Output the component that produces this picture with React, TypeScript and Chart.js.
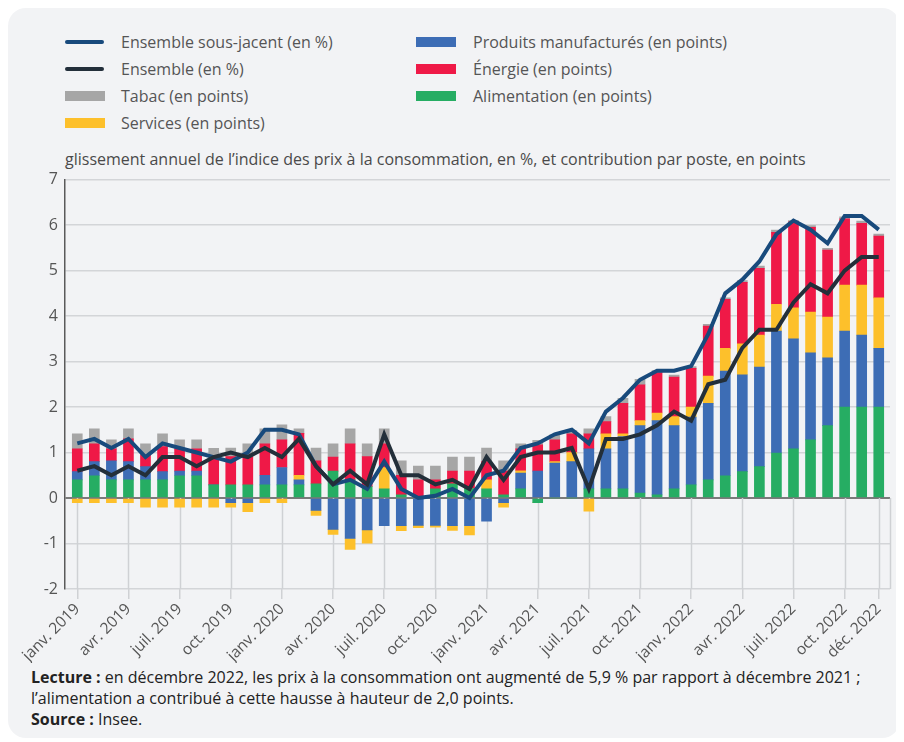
import React, { useEffect, useRef } from "react";
import { Chart, registerables } from "chart.js";

Chart.register(...registerables);

// ---------- DATA ----------
const categories = [
  "janv. 2019", "févr. 2019", "mars 2019", "avr. 2019", "mai 2019", "juin 2019",
  "juil. 2019", "août 2019", "sept. 2019", "oct. 2019", "nov. 2019", "déc. 2019",
  "janv. 2020", "févr. 2020", "mars 2020", "avr. 2020", "mai 2020", "juin 2020",
  "juil. 2020", "août 2020", "sept. 2020", "oct. 2020", "nov. 2020", "déc. 2020",
  "janv. 2021", "févr. 2021", "mars 2021", "avr. 2021", "mai 2021", "juin 2021",
  "juil. 2021", "août 2021", "sept. 2021", "oct. 2021", "nov. 2021", "déc. 2021",
  "janv. 2022", "févr. 2022", "mars 2022", "avr. 2022", "mai 2022", "juin 2022",
  "juil. 2022", "août 2022", "sept. 2022", "oct. 2022", "nov. 2022", "déc. 2022",
];

// indices of categories shown as x tick labels
const tickIndices = [0, 3, 6, 9, 12, 15, 18, 21, 24, 27, 30, 33, 36, 39, 42, 45, 47];

const alimentation = [
  0.40, 0.49, 0.40, 0.40, 0.40, 0.40, 0.49, 0.49, 0.29, 0.29, 0.29, 0.29,
  0.29, 0.29, 0.31, 0.59, 0.40, 0.25, 0.20, 0.07, 0.02, 0.20, 0.31, 0.21,
  0.20, 0.07, 0.20, -0.10, 0.00, 0.00, 0.20, 0.20, 0.20, 0.11, 0.07, 0.20,
  0.29, 0.40, 0.49, 0.58, 0.69, 0.99, 1.08, 1.28, 1.59, 2.00, 2.00, 2.00,
];
const produitsManufactures = [
  0.18, 0.31, 0.42, 0.40, 0.29, 0.18, 0.10, 0.10, 0.00, -0.10, -0.10, 0.21,
  0.38, 0.11, -0.27, -0.69, -0.89, -0.70, -0.61, -0.61, -0.60, -0.60, -0.61, -0.61,
  -0.51, -0.10, 0.35, 0.59, 0.77, 0.80, 0.88, 0.88, 1.15, 1.48, 1.63, 1.39,
  1.49, 1.68, 2.30, 2.13, 2.19, 2.68, 2.42, 1.91, 1.49, 1.67, 1.58, 1.29,
];
const services = [
  -0.10, -0.10, -0.10, -0.10, -0.20, -0.20, -0.20, -0.20, -0.20, -0.10, -0.20, -0.10,
  -0.10, 0.10, -0.11, -0.11, -0.24, -0.29, 0.47, -0.11, -0.05, -0.04, -0.10, -0.20,
  0.20, -0.10, 0.05, 0.00, 0.03, 0.20, -0.29, 0.33, 0.06, 0.11, 0.17, 0.20,
  0.22, 0.60, 0.50, 0.68, 0.70, 0.59, 0.68, 0.90, 0.90, 1.01, 1.10, 1.11,
];
const energie = [
  0.50, 0.39, 0.26, 0.50, 0.26, 0.55, 0.49, 0.49, 0.58, 0.62, 0.61, 0.69,
  0.61, 0.92, 0.51, 0.31, 0.79, 0.66, 0.52, 0.43, 0.38, 0.20, 0.28, 0.38,
  0.40, 0.52, 0.48, 0.58, 0.48, 0.41, 0.33, 0.27, 0.67, 0.79, 0.89, 0.87,
  0.85, 1.10, 1.08, 1.35, 1.47, 1.58, 1.89, 1.86, 1.47, 1.46, 1.36, 1.36,
];
const tabac = [
  0.33, 0.33, 0.20, 0.22, 0.24, 0.28, 0.20, 0.20, 0.22, 0.19, 0.29, 0.33,
  0.33, 0.10, 0.28, 0.29, 0.33, 0.28, 0.33, 0.32, 0.30, 0.30, 0.31, 0.31,
  0.30, 0.23, 0.11, 0.10, 0.11, 0.07, 0.11, 0.11, 0.11, 0.12, 0.04, 0.04,
  0.04, 0.04, 0.03, 0.04, 0.05, 0.05, 0.03, 0.04, 0.04, 0.04, 0.05, 0.04,
];
const ensembleSousJacent = [
  1.2, 1.3, 1.1, 1.3, 0.9, 1.2, 1.1, 1.0, 0.9, 0.8, 1.0, 1.5,
  1.5, 1.4, 0.7, 0.3, 0.4, 0.2, 0.8, 0.2, 0.0, 0.05, 0.2, 0.0,
  0.5, 0.6, 1.1, 1.2, 1.4, 1.5, 1.2, 1.9, 2.2, 2.6, 2.8, 2.8,
  2.9, 3.6, 4.5, 4.8, 5.2, 5.8, 6.1, 5.9, 5.6, 6.2, 6.2, 5.9,
];
const ensemble = [
  0.6, 0.7, 0.5, 0.7, 0.5, 0.9, 0.9, 0.7, 0.9, 1.0, 0.9, 1.1,
  0.9, 1.3, 0.7, 0.3, 0.6, 0.3, 1.4, 0.5, 0.5, 0.3, 0.4, 0.2,
  0.9, 0.4, 0.9, 1.0, 1.0, 1.1, 0.2, 1.3, 1.3, 1.4, 1.6, 1.9,
  1.7, 2.5, 2.6, 3.3, 3.7, 3.7, 4.3, 4.7, 4.5, 5.0, 5.3, 5.3,
];

const yMin = -2;
const yMax = 7;

// ---------- STYLE ----------
const C_SOUSJ = "#184a7c";
const C_ENS = "#232f3a";
const C_TABAC = "#a6a6a6";
const C_SERV = "#fdc02b";
const C_MANUF = "#3d6db5";
const C_ENER = "#ef1947";
const C_ALIM = "#26ad63";
const FONT = "'Open Sans', sans-serif";

const toXY = (arr: number[]) => arr.map((v, i) => ({ x: i, y: v }));

const vLinesPlugin = {
  id: "vlines",
  beforeDatasetsDraw(chart: any) {
    const { ctx, chartArea } = chart;
    const x = chart.scales.x;
    const y = chart.scales.y;
    const y0 = y.getPixelForValue(0);
    ctx.save();
    ctx.strokeStyle = "#cfd1d4";
    ctx.lineWidth = 1.5;
    const xs = x.ticks.map((t: any) => x.getPixelForValue(t.value));
    xs.push(chartArea.right);
    xs.forEach((px: number) => {
      ctx.beginPath();
      ctx.moveTo(Math.round(px) + 0.5, y0);
      ctx.lineTo(Math.round(px) + 0.5, chartArea.bottom);
      ctx.stroke();
    });
    ctx.restore();
  },
};

function ChartCanvas() {
  const ref = useRef<HTMLCanvasElement | null>(null);
  useEffect(() => {
    if (!ref.current) return;
    const barCommon = {
      type: "bar" as const,
      barThickness: 10,
      borderWidth: 0,
      stack: "bars",
    };
    const chart = new Chart(ref.current, {
      type: "bar",
      data: {
        datasets: [
          {
            type: "line",
            label: "Ensemble (en %)",
            data: toXY(ensemble),
            borderColor: C_ENS,
            borderWidth: 4,
            pointRadius: 0,
            tension: 0,
            fill: false,
            stack: "l1",
          } as any,
          {
            type: "line",
            label: "Ensemble sous-jacent (en %)",
            data: toXY(ensembleSousJacent),
            borderColor: C_SOUSJ,
            borderWidth: 4,
            pointRadius: 0,
            tension: 0,
            fill: false,
            stack: "l2",
          } as any,
          { ...barCommon, label: "Alimentation (en points)", data: toXY(alimentation), backgroundColor: C_ALIM },
          { ...barCommon, label: "Produits manufacturés (en points)", data: toXY(produitsManufactures), backgroundColor: C_MANUF },
          { ...barCommon, label: "Services (en points)", data: toXY(services), backgroundColor: C_SERV },
          { ...barCommon, label: "Énergie (en points)", data: toXY(energie), backgroundColor: C_ENER },
          { ...barCommon, label: "Tabac (en points)", data: toXY(tabac), backgroundColor: C_TABAC },
        ],
      },
      options: {
        animation: false,
        responsive: false,
        maintainAspectRatio: false,
        layout: { padding: { top: 3, right: 10, left: 0, bottom: 0 } },
        plugins: { legend: { display: false }, tooltip: { enabled: false } },
        scales: {
          x: {
            type: "linear",
            min: -0.72,
            max: 47.66,
            offset: false,
            stacked: true,
            afterBuildTicks: (scale: any) => {
              scale.ticks = tickIndices.map((v) => ({ value: v }));
            },
            afterFit: (scale: any) => {
              scale.height = 74;
            },
            ticks: {
              autoSkip: false,
              maxRotation: 45,
              minRotation: 45,
              padding: 1,
              color: "#555",
              font: { family: FONT, size: 15.5 },
              callback: (v: any) => categories[Math.round(Number(v))] ?? "",
            },
            grid: {
              display: true,
              offset: false,
              drawOnChartArea: false,
              drawTicks: true,
              tickLength: 10,
              color: "#cfd1d4",
              lineWidth: 1.5,
            },
            border: { display: false },
          },
          y: {
            min: yMin,
            max: yMax,
            stacked: true,
            afterFit: (scale: any) => {
              scale.width = 57;
            },
            ticks: {
              stepSize: 1,
              padding: 7,
              color: "#555",
              font: { family: FONT, size: 16 },
            },
            grid: {
              drawTicks: false,
              color: (c: any) => (c.tick && c.tick.value === 0 ? "#7a7a7a" : "#d3d5d8"),
              lineWidth: (c: any) => (c.tick && c.tick.value === 0 ? 2 : 1.5),
            },
            border: { display: true, color: "#5a5a5a", width: 1.5 },
          },
        },
      } as any,
      plugins: [vLinesPlugin],
    });
    return () => chart.destroy();
  }, []);
  return <canvas ref={ref} width={892} height={500} style={{ display: "block", width: 892, height: 500 }} />;
}

const legendLeft = [
  { label: "Ensemble sous-jacent (en %)", color: C_SOUSJ, kind: "line" },
  { label: "Ensemble (en %)", color: C_ENS, kind: "line" },
  { label: "Tabac (en points)", color: C_TABAC, kind: "rect" },
  { label: "Services (en points)", color: C_SERV, kind: "rect" },
];
const legendRight = [
  { label: "Produits manufacturés (en points)", color: C_MANUF, kind: "rect" },
  { label: "Énergie (en points)", color: C_ENER, kind: "rect" },
  { label: "Alimentation (en points)", color: C_ALIM, kind: "rect" },
];

function LegendItem({ item, x, yc, textX }: any) {
  return (
    <>
      {item.kind === "line" ? (
        <div style={{ position: "absolute", left: x, top: yc - 2, width: 39, height: 4, borderRadius: 2, background: item.color }} />
      ) : (
        <div style={{ position: "absolute", left: x, top: yc - 5, width: 40, height: 10, background: item.color }} />
      )}
      <div style={{ position: "absolute", left: textX, top: yc - 11, lineHeight: "22px", fontSize: 16, color: "#555", whiteSpace: "nowrap" }}>
        {item.label}
      </div>
    </>
  );
}

export default function App() {
  const rows = [34, 61, 88, 115];
  return (
    <div
      style={{
        position: "relative",
        width: 892,
        height: 730,
        background: "#f2f3f5",
        borderRadius: 18,
        fontFamily: FONT,
        overflow: "hidden",
      }}
    >
      {legendLeft.map((it, i) => (
        <LegendItem key={it.label} item={it} x={57} yc={rows[i]} textX={113} />
      ))}
      {legendRight.map((it, i) => (
        <LegendItem key={it.label} item={it} x={408} yc={rows[i]} textX={465} />
      ))}
      <div style={{ position: "absolute", left: 57, top: 140, lineHeight: "22px", fontSize: 16, color: "#4a4a4a", whiteSpace: "nowrap" }}>
        glissement annuel de l’indice des prix à la consommation, en %, et contribution par poste, en points
      </div>
      <div style={{ position: "absolute", left: 0, top: 155 }}>
        <ChartCanvas />
      </div>
      <div style={{ position: "absolute", left: 23, top: 659, lineHeight: "21px", fontSize: 16, color: "#222" }}>
        <div>
          <b>Lecture :</b> en décembre 2022, les prix à la consommation ont augmenté de 5,9 % par rapport à décembre 2021 ;
        </div>
        <div>l’alimentation a contribué à cette hausse à hauteur de 2,0 points.</div>
        <div>
          <b>Source :</b> Insee.
        </div>
      </div>
    </div>
  );
}
